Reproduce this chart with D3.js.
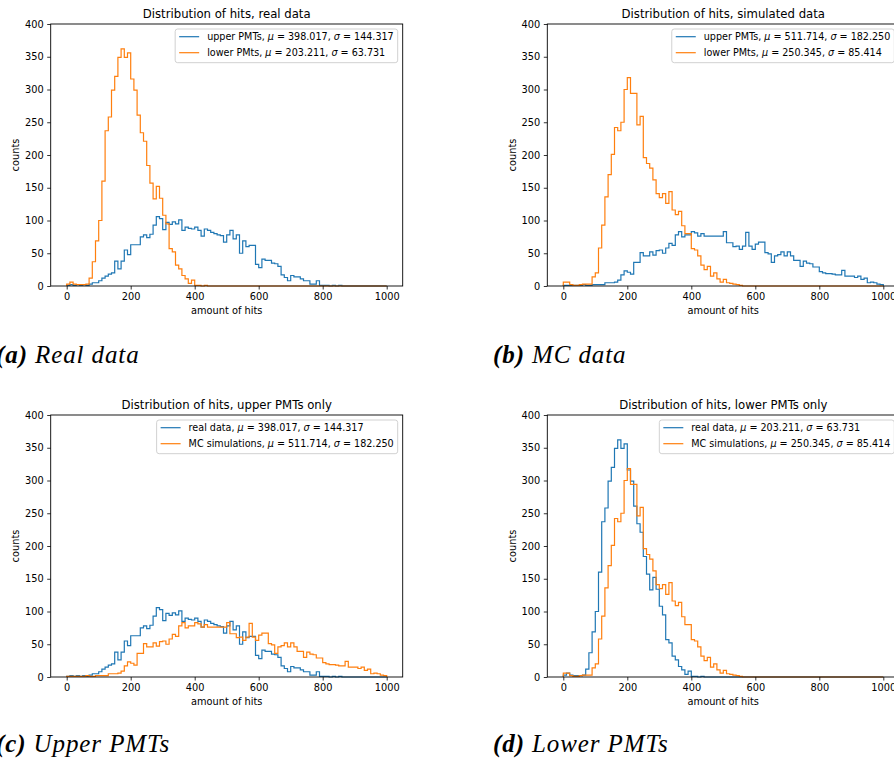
<!DOCTYPE html>
<html>
<head>
<meta charset="utf-8">
<script src="https://cdn.jsdelivr.net/npm/d3@7"></script>
<style>
  body { margin: 0; background: #fff; }
  svg { display: block; }
</style>
</head>
<body>
<svg id="fig" width="894" height="761"></svg>
<script>
// Histogram bin edges: 100 bins of width 10 from 0 to 1000
const binEdges = d3.range(0, 1001, 10);

// Counts per bin
const realUpper = [
  1, 2, 1, 2, 1, 2, 1, 3, 5, 5,
  8, 12, 15, 18, 20, 38, 26, 38, 55, 48,
  63, 63, 63, 75, 78, 74, 79, 93, 106, 103,
  86, 97, 94, 98, 95, 101, 85, 90, 88, 87,
  90, 85, 76, 87, 85, 82, 80, 78, 77, 67,
  78, 85, 72, 78, 50, 69, 60, 62, 62, 33,
  28, 41, 39, 39, 35, 34, 30, 17, 13, 8,
  16, 14, 14, 11, 8, 8, 3, 3, 8, 1,
  1, 1, 0, 1, 0, 1, 0, 0, 0, 0,
  0, 0, 0, 0, 0, 0, 0, 0, 0, 0
];
const realLower = [
  3, 6, 3, 2, 2, 2, 3, 12, 37, 69,
  100, 160, 237, 258, 299, 320, 349, 362, 349, 356,
  316, 299, 261, 234, 221, 184, 157, 133, 152, 134,
  108, 95, 57, 52, 32, 26, 16, 11, 4, 9,
  1, 1, 0, 1, 0, 0, 0, 0, 0, 0,
  0, 0, 0, 0, 0, 0, 0, 0, 0, 0,
  0, 0, 0, 0, 0, 0, 0, 0, 0, 0,
  0, 0, 0, 0, 0, 0, 0, 0, 0, 0,
  0, 0, 0, 0, 0, 0, 0, 0, 0, 0,
  0, 0, 0, 0, 0, 0, 0, 0, 0, 0
];
const mcUpper = [
  1, 1, 1, 1, 1, 1, 2, 1, 1, 2,
  2, 2, 2, 5, 5, 5, 6, 9, 17, 23,
  21, 18, 36, 36, 51, 46, 46, 52, 47, 54,
  55, 50, 58, 65, 62, 78, 83, 75, 78, 78,
  83, 81, 76, 80, 76, 76, 76, 76, 76, 76,
  83, 66, 66, 60, 61, 56, 61, 82, 61, 56,
  64, 67, 67, 51, 49, 36, 46, 48, 52, 46,
  52, 46, 39, 39, 30, 38, 35, 34, 29, 29,
  22, 20, 19, 19, 18, 17, 17, 24, 15, 15,
  15, 13, 15, 10, 12, 5, 6, 5, 3, 2
];
const mcLower = [
  6, 6, 2, 1, 1, 2, 3, 3, 3, 14,
  20, 58, 93, 136, 170, 201, 242, 237, 250, 300,
  318, 294, 294, 246, 259, 196, 187, 180, 162, 141,
  135, 141, 126, 144, 116, 109, 114, 92, 80, 80,
  57, 55, 46, 32, 25, 30, 15, 20, 11, 6,
  10, 5, 4, 3, 2, 1, 0, 0, 0, 0,
  0, 0, 0, 0, 0, 0, 0, 0, 0, 0,
  0, 0, 0, 0, 0, 0, 0, 0, 0, 0,
  0, 0, 0, 0, 0, 0, 0, 0, 0, 0,
  0, 0, 0, 0, 0, 0, 0, 0, 0, 0
];

// Summary statistics shown in the legends
const realUpperStats = ["398.017", "144.317"];
const realLowerStats = ["203.211", "63.731"];
const mcUpperStats = ["511.714", "182.250"];
const mcLowerStats = ["250.345", "85.414"];

// Axis ticks
const xTicks = [0, 200, 400, 600, 800, 1000];
const yTicks = [0, 50, 100, 150, 200, 250, 300, 350, 400];

// Titles and captions
const titles = [
  "Distribution of hits, real data",
  "Distribution of hits, simulated data",
  "Distribution of hits, upper PMTs only",
  "Distribution of hits, lower PMTs only"
];
const captionTags = ["(a)", "(b)", "(c)", "(d)"];
const captionTexts = ["Real data", "MC data", "Upper PMTs", "Lower PMTs"];

const COLORS = ["#1f77b4", "#ff7f0e"];

// Panel table built from the arrays above
const panels = [
  { title: titles[0], cap: 0, series: [
      { counts: realUpper, label: "upper PMTs", stats: realUpperStats },
      { counts: realLower, label: "lower PMts", stats: realLowerStats } ] },
  { title: titles[1], cap: 1, series: [
      { counts: mcUpper, label: "upper PMTs", stats: mcUpperStats },
      { counts: mcLower, label: "lower PMts", stats: mcLowerStats } ] },
  { title: titles[2], cap: 2, series: [
      { counts: realUpper, label: "real data", stats: realUpperStats },
      { counts: mcUpper, label: "MC simulations", stats: mcUpperStats } ] },
  { title: titles[3], cap: 3, series: [
      { counts: realLower, label: "real data", stats: realLowerStats },
      { counts: mcLower, label: "MC simulations", stats: mcLowerStats } ] }
];

// Layout
const colX = [50.7, 547.3];
const rowY = [24, 415];
const plotW = 352, plotH = 262;
const captionX = [-4, 493];
const captionY = [363, 752];
const FONT = "'DejaVu Sans', sans-serif";

const svg = d3.select("#fig");
svg.append("rect").attr("width", 894).attr("height", 761).attr("fill", "#fff");

const x = d3.scaleLinear().domain([-50, 1050]).range([0, plotW]);
const y = d3.scaleLinear().domain([0, 400]).range([plotH, 0]);

const stepLine = d3.line().x(d => x(d[0])).y(d => y(d[1]));
function stepPoints(counts) {
  const pts = [[binEdges[0], 0]];
  counts.forEach((c, i) => {
    pts.push([binEdges[i], c]);
    pts.push([binEdges[i + 1], c]);
  });
  pts.push([binEdges[binEdges.length - 1], 0]);
  return pts;
}

panels.forEach((p, idx) => {
  const col = idx % 2, row = Math.floor(idx / 2);
  const g = svg.append("g").attr("transform", `translate(${colX[col]},${rowY[row]})`);

  // histogram outlines
  p.series.forEach((s, k) => {
    g.append("path")
      .attr("d", stepLine(stepPoints(s.counts)))
      .attr("fill", "none")
      .attr("stroke", COLORS[k])
      .attr("stroke-width", 1.2)
      .attr("stroke-linejoin", "miter");
  });

  // axes
  const xa = g.append("g").attr("transform", `translate(0,${plotH})`)
    .call(d3.axisBottom(x).tickValues(xTicks).tickFormat(d3.format("d"))
      .tickSize(3.5).tickPadding(3.5));
  const ya = g.append("g")
    .call(d3.axisLeft(y).tickValues(yTicks).tickFormat(d3.format("d"))
      .tickSize(3.5).tickPadding(3.5));
  [xa, ya].forEach(a => {
    a.select(".domain").remove();
    a.selectAll(".tick line").attr("stroke", "#000").attr("stroke-width", 0.8);
    a.selectAll(".tick text").attr("fill", "#000")
      .style("font-family", FONT).style("font-size", "9.8px");
  });

  // spines
  g.append("rect").attr("width", plotW).attr("height", plotH)
    .attr("fill", "none").attr("stroke", "#000").attr("stroke-width", 0.9);

  // axis labels
  g.append("text").attr("x", plotW / 2).attr("y", plotH + 28)
    .attr("text-anchor", "middle").style("font-family", FONT).style("font-size", "9.8px")
    .text("amount of hits");
  g.append("text")
    .attr("transform", `translate(${16 - colX[0]},${plotH / 2}) rotate(-90)`)
    .attr("dy", "0.35em")
    .attr("text-anchor", "middle").style("font-family", FONT).style("font-size", "9.8px")
    .text("counts");

  // title
  g.append("text").attr("x", plotW / 2).attr("y", -5.8)
    .attr("text-anchor", "middle").style("font-family", FONT).style("font-size", "11.7px")
    .text(p.title);

  // legend
  const lg = g.append("g");
  const box = lg.append("rect").attr("rx", 2.5).attr("ry", 2.5)
    .attr("fill", "#fff").attr("fill-opacity", 0.8)
    .attr("stroke", "#cccccc").attr("stroke-width", 0.9);
  const rowsY = [7.7, 23.7];
  const texts = p.series.map((s, k) => {
    lg.append("line").attr("x1", 4).attr("x2", 24)
      .attr("y1", rowsY[k]).attr("y2", rowsY[k])
      .attr("stroke", COLORS[k]).attr("stroke-width", 1.2);
    const t = lg.append("text").attr("x", 32).attr("y", rowsY[k] + 3.5)
      .style("font-family", FONT).style("font-size", "9.6px");
    t.append("tspan").text(s.label + ", ");
    t.append("tspan").style("font-style", "italic").text("μ");
    t.append("tspan").text(" = " + s.stats[0] + ", ");
    t.append("tspan").style("font-style", "italic").text("σ");
    t.append("tspan").text(" = " + s.stats[1]);
    return t;
  });
  const maxW = d3.max(texts, t => t.node().getComputedTextLength());
  const boxW = 32 + maxW + 4;
  box.attr("width", boxW).attr("height", 33.7);
  lg.attr("transform", `translate(${plotW - 5 - boxW},5)`);

  // caption
  const cap = svg.append("text")
    .attr("x", captionX[col]).attr("y", captionY[row])
    .style("font-family", "'Liberation Serif', serif").style("font-size", "25px")
    .style("font-style", "italic").style("letter-spacing", "0.9px");
  cap.append("tspan").style("font-weight", "bold").text(captionTags[p.cap]);
  cap.append("tspan").text(" " + captionTexts[p.cap]);
});
</script>
</body>
</html>
